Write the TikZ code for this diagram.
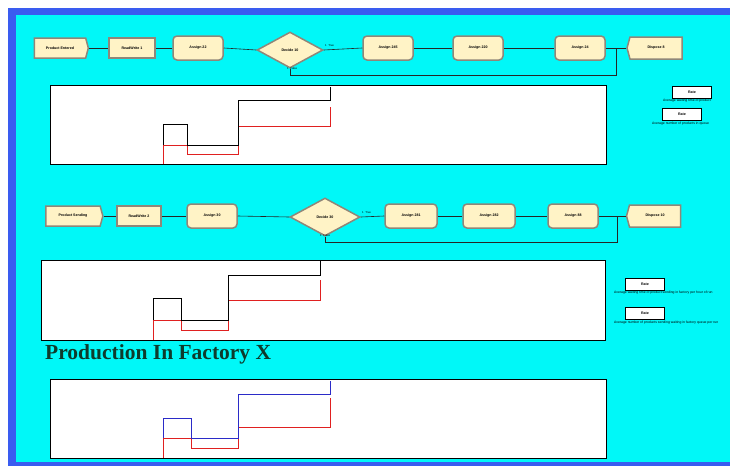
\documentclass[tikz,border=0pt]{standalone}
\usepackage{fontspec}
\setmainfont{Liberation Serif}
\setsansfont{Liberation Sans}
\usetikzlibrary{shapes.geometric,shapes.symbols}

\definecolor{frameblue}{HTML}{3A5CF0}
\definecolor{aqua}{HTML}{00F8F8}
\definecolor{modfill}{HTML}{FFF3C6}
\definecolor{modedge}{HTML}{8F8779}
\definecolor{titlegreen}{HTML}{0E3B2C}
\definecolor{plotblue}{HTML}{2B2BC8}
\definecolor{plotred}{HTML}{E02020}

\begin{document}
\begin{tikzpicture}[
  x=1pt, y=-1pt,
  mod/.style={draw=modedge, line width=1.5pt, fill=modfill, inner sep=1pt,
    font=\sffamily\bfseries\fontsize{3.6}{4}\selectfont, minimum height=20pt},
  create/.style={mod, shape=signal, signal to=east, signal pointer angle=150, minimum width=54pt},
  readw/.style={mod, minimum width=46pt},
  assign/.style={mod, rounded corners=4pt, minimum width=50pt, minimum height=24pt},
  decide/.style={mod, diamond, inner sep=0pt, minimum width=66pt, minimum height=36pt},
  dispose/.style={mod, shape=signal, signal to=west, signal pointer angle=150, minimum width=55pt, minimum height=22pt},
  link/.style={line width=0.6pt, draw=black!85},
  lbl/.style={font=\sffamily\fontsize{2.8}{3}\selectfont, inner sep=0pt},
  chart/.style={draw=black, line width=0.7pt, fill=white},
  varbox/.style={draw=black, line width=0.8pt, fill=white, inner sep=0pt,
    minimum width=39pt, minimum height=12pt, font=\sffamily\bfseries\fontsize{3.6}{4}\selectfont},
  note/.style={font=\sffamily\fontsize{3.4}{4}\selectfont, anchor=north west, inner sep=0pt},
  trace/.style={line width=0.8pt}
]
\useasboundingbox (0,0) rectangle (730,466);
\clip (0,0) rectangle (730,466);
% background frame
\fill[white] (0,0) rectangle (730,466);
\fill[frameblue] (8,8) rectangle (730,466);
\fill[aqua] (16,15) rectangle (730,462);

% first line of modules
\node[create] (pe1) at (60,48) {Product Entered};
\node[readw] (rw1) at (132,48) {ReadWrite 1};
\node[assign] (as22) at (198,48) {Assign 22};
\node[decide] (dc10) at (290,50) {Decide 10};
\node[assign] (as245) at (388,48) {Assign 245};
\node[assign] (as220) at (478,48) {Assign 220};
\node[assign] (as24) at (580,48) {Assign 24};
\node[dispose] (dp8) at (656,48) {Dispose 8};
\coordinate (j1) at (616,48);
\coordinate (j1b) at (616,75);
\node[lbl, anchor=south west] (t10) at (325,47) {1 \ True};
\node[lbl, anchor=north west] (f10) at (287,67) {1 \ False};

\draw[link] (pe1.east) -- (rw1.west);
\draw[link] (rw1.east) -- (as22.west);
\draw[link] (as22.east) -- (dc10.west);
\draw[link] (dc10.east) -- (as245.west);
\draw[link] (as245.east) -- (as220.west);
\draw[link] (as220.east) -- (as24.west);
\draw[link] (as24.east) -- (dp8.west);
\draw[link] (dc10.south) |- (j1b) -- (j1);

% second line of modules
\node[create, minimum width=57pt] (ps2) at (73,216) {Product Sending};
\node[readw, minimum width=44pt] (rw2) at (139,216) {ReadWrite 2};
\node[assign] (as30) at (212,216) {Assign 30};
\node[decide, minimum width=70pt, minimum height=38pt] (dc30) at (325,217) {Decide 30};
\node[assign, minimum width=52pt] (as281) at (411,216) {Assign 281};
\node[assign, minimum width=52pt] (as282) at (489,216) {Assign 282};
\node[assign] (as88) at (573,216) {Assign 88};
\node[dispose, minimum width=54pt] (dp10) at (655,216) {Dispose 10};
\coordinate (j2) at (617,216);
\coordinate (j2b) at (617,242);
\node[lbl, anchor=south west] (t30) at (362,214) {1 \ True};
\node[lbl, anchor=north west] (f30) at (320,234) {1 \ False};

\draw[link] (ps2.east) -- (rw2.west);
\draw[link] (rw2.east) -- (as30.west);
\draw[link] (as30.east) -- (dc30.west);
\draw[link] (dc30.east) -- (as281.west);
\draw[link] (as281.east) -- (as282.west);
\draw[link] (as282.east) -- (as88.west);
\draw[link] (as88.east) -- (dp10.west);
\draw[link] (dc30.south) |- (j2b) -- (j2);

% plots
\fill[chart] (50,85) rectangle (606,164);
\draw[trace, plotred] (163,164) -- (163,145) -- (187,145) -- (187,154) -- (238,154) -- (238,126) -- (330,126) -- (330,107);
\draw[trace, black] (163,145) -- (163,124) -- (187,124) -- (187,145) -- (238,145) -- (238,100) -- (330,100) -- (330,87);

\fill[chart] (41,260) rectangle (605,340);
\draw[trace, plotred] (153,340) -- (153,320) -- (181,320) -- (181,330) -- (228,330) -- (228,300) -- (320,300) -- (320,280);
\draw[trace, black] (153,320) -- (153,298) -- (181,298) -- (181,320) -- (228,320) -- (228,275) -- (320,275) -- (320,261);

\node[anchor=west, inner sep=0pt, text=titlegreen, font=\bfseries\fontsize{21.5}{24}\selectfont] (title) at (45,354) {Production In Factory X};

\fill[chart] (50,379) rectangle (606,458);
\draw[trace, plotred] (163,458) -- (163,438) -- (191,438) -- (191,448) -- (238,448) -- (238,427) -- (330,427) -- (330,398);
\draw[trace, plotblue] (163,438) -- (163,418) -- (191,418) -- (191,438) -- (238,438) -- (238,394) -- (330,394) -- (330,381);

% variables on the right
\node[varbox] (v1) at (692,92) {Rate};
\node[note] (n1) at (663,99) {Average waiting time of product};
\node[varbox] (v2) at (682,114) {Rate};
\node[note] (n2) at (652,122) {Average number of products in queue};
\node[varbox] (v3) at (645,284) {Rate};
\node[note] (n3) at (614,291) {Average waiting time of product sending in factory per hour of run};
\node[varbox] (v4) at (645,313) {Rate};
\node[note] (n4) at (614,321) {Average number of products sending waiting in factory queue per run};
\end{tikzpicture}
\end{document}
